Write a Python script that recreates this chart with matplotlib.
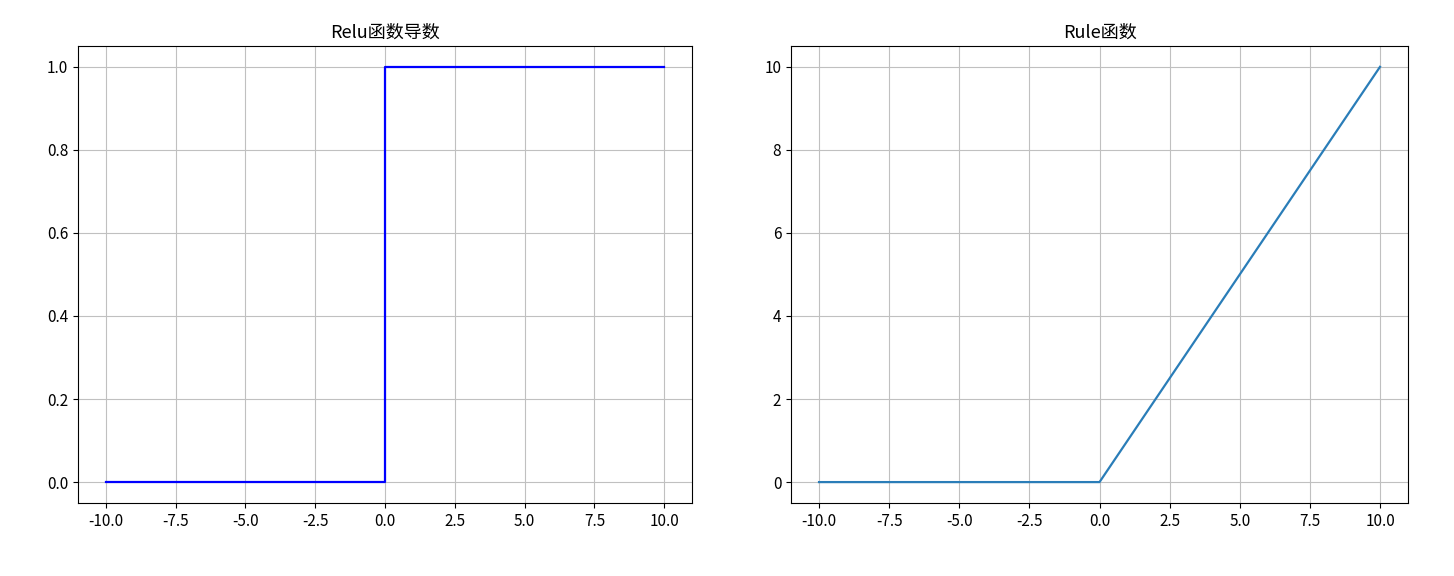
import matplotlib
matplotlib.use("Agg")
import matplotlib.pyplot as plt

plt.rcParams['font.family'] = ['Noto Sans CJK SC', 'DejaVu Sans']
plt.rcParams['axes.unicode_minus'] = False

# Data
deriv_x = [-10.0, 0.0, 0.0, 10.0]
deriv_y = [0.0, 0.0, 1.0, 1.0]
relu_x = [-10.0, 0.0, 10.0]
relu_y = [0.0, 0.0, 10.0]
xticks = [-10.0, -7.5, -5.0, -2.5, 0.0, 2.5, 5.0, 7.5, 10.0]
left_title = "Relu函数导数"
right_title = "Rule函数"

fig = plt.figure(figsize=(14.54, 5.76), dpi=100)
ax1 = fig.add_axes([0.0536, 0.127, 0.4224, 0.793])
ax2 = fig.add_axes([0.544, 0.127, 0.4244, 0.793])

ax1.plot(deriv_x, deriv_y, color='blue', linewidth=1.6)
ax1.set_title(left_title, fontsize=13)
ax1.grid(True, color='#c0c0c0')
ax1.set_xticks(xticks)
ax1.set_yticks([0.0, 0.2, 0.4, 0.6, 0.8, 1.0])

ax2.plot(relu_x, relu_y, color='#2a7db8', linewidth=1.6)
ax2.set_title(right_title, fontsize=13)
ax2.grid(True, color='#c0c0c0')
ax2.set_xticks(xticks)
ax2.set_yticks([0, 2, 4, 6, 8, 10])

for ax in (ax1, ax2):
    ax.tick_params(labelsize=11)

fig.savefig("out.png", dpi=100)
